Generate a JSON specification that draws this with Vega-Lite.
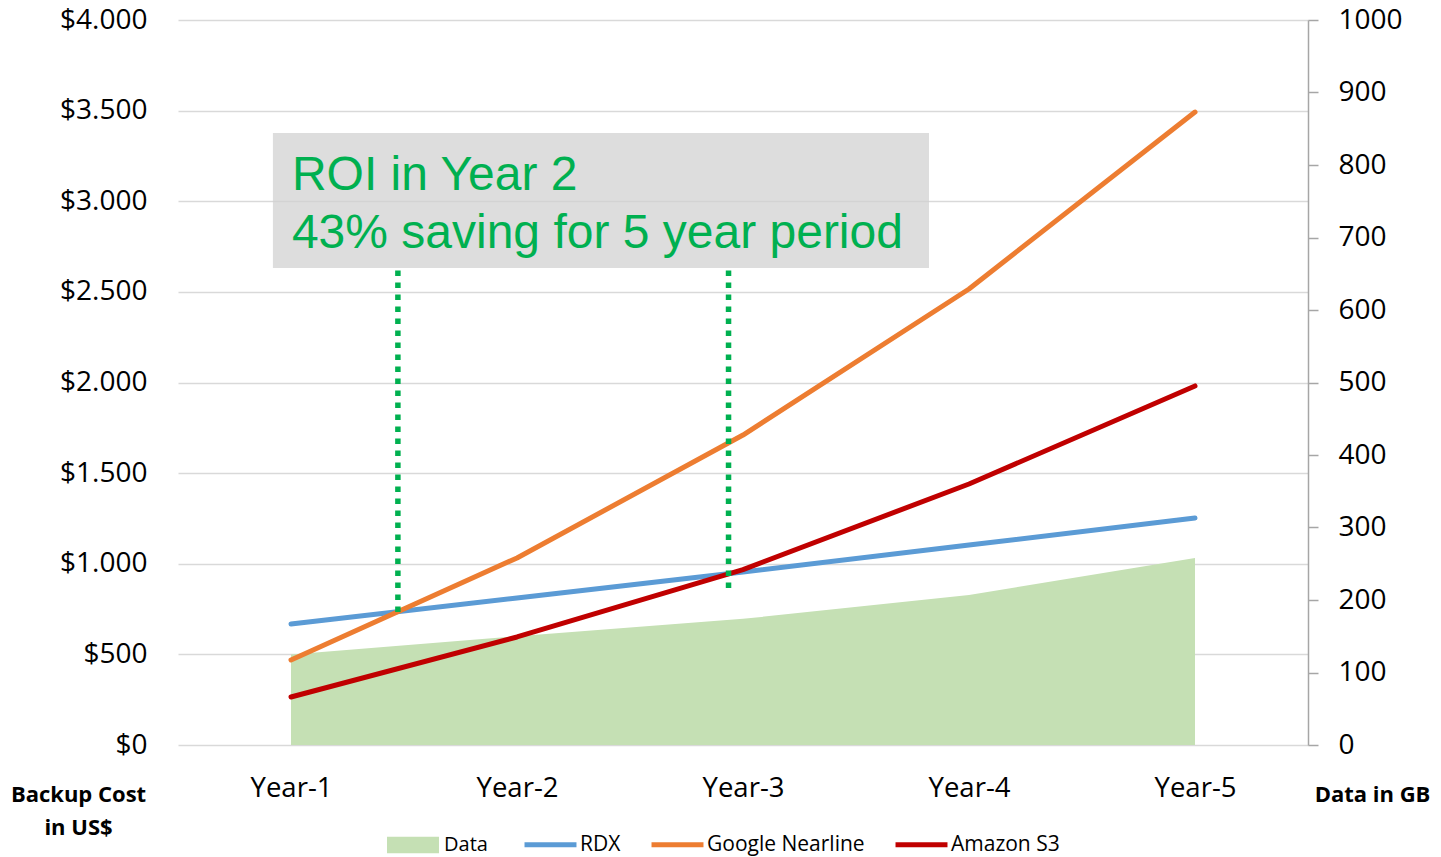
{
  "$schema": "https://vega.github.io/schema/vega-lite/v6.json",
  "width": 1130,
  "height": 725,
  "autosize": {"type": "none"},
  "padding": {"left": 178, "top": 20, "right": 133, "bottom": 112},
  "background": "white",
  "config": {"view": {"stroke": null}, "font": "Open Sans"},
  "datasets": {
    "gb": [
      {"x": 1, "series": "Data", "gb": 125},
      {"x": 2, "series": "Data", "gb": 150},
      {"x": 3, "series": "Data", "gb": 174},
      {"x": 4, "series": "Data", "gb": 207},
      {"x": 5, "series": "Data", "gb": 258}
    ],
    "cost": [
      {"x": 1, "series": "RDX", "cost": 668},
      {"x": 2, "series": "RDX", "cost": 811},
      {"x": 3, "series": "RDX", "cost": 955},
      {"x": 4, "series": "RDX", "cost": 1103},
      {"x": 5, "series": "RDX", "cost": 1252},
      {"x": 1, "series": "Google Nearline", "cost": 469},
      {"x": 2, "series": "Google Nearline", "cost": 1032},
      {"x": 3, "series": "Google Nearline", "cost": 1710},
      {"x": 4, "series": "Google Nearline", "cost": 2516},
      {"x": 5, "series": "Google Nearline", "cost": 3492},
      {"x": 1, "series": "Amazon S3", "cost": 265},
      {"x": 2, "series": "Amazon S3", "cost": 596},
      {"x": 3, "series": "Amazon S3", "cost": 968},
      {"x": 4, "series": "Amazon S3", "cost": 1440},
      {"x": 5, "series": "Amazon S3", "cost": 1981}
    ],
    "markers": [
      {"x": 1.473, "y": 734, "y2": 2632},
      {"x": 2.936, "y": 866, "y2": 2632}
    ],
    "box": [
      {"x": 0.92, "x2": 3.823, "y": 2632, "y2": 3377}
    ],
    "notes": [
      {"x": 1.004, "y": 3062, "text": "ROI in Year 2"},
      {"x": 1.004, "y": 2742, "text": "43% saving for 5 year period"}
    ]
  },
  "layer": [
    {
      "data": {"name": "gb"},
      "mark": {"type": "area", "opacity": 1},
      "encoding": {
        "x": {
          "field": "x", "type": "quantitative", "title": null,
          "scale": {"domain": [0.5, 5.5], "nice": false, "zero": false},
          "axis": {
            "orient": "bottom", "values": [1, 2, 3, 4, 5],
            "labelExpr": "'Year-' + datum.value",
            "domain": false, "ticks": false, "tickSize": 0, "grid": false,
            "labelPadding": 29, "labelFontSize": 27.5, "labelFont": "Open Sans",
            "labelColor": "#000000", "labelFlush": false, "title": null
          }
        },
        "y": {
          "field": "gb", "type": "quantitative",
          "scale": {"domain": [0, 1000], "nice": false},
          "axis": {
            "orient": "right", "values": [0, 100, 200, 300, 400, 500, 600, 700, 800, 900, 1000],
            "format": "d",
            "domain": true, "domainColor": "#A6A6A6", "domainWidth": 1.5,
            "ticks": true, "tickColor": "#A6A6A6", "tickSize": 10, "tickWidth": 1.5,
            "grid": false, "labelPadding": 20, "labelFontSize": 28, "labelFont": "Open Sans",
            "labelColor": "#000000", "labelFlush": false,
            "title": "Data in GB", "titleAngle": 0, "titleX": 64, "titleY": 781,
            "titleAlign": "center", "titleBaseline": "alphabetic",
            "titleFont": "Open Sans", "titleFontWeight": "bold", "titleFontSize": 22, "titleColor": "#000000"
          }
        },
        "fill": {
          "field": "series", "type": "nominal",
          "scale": {"domain": ["Data"], "range": ["#C5E0B4"]},
          "legend": {
            "orient": "none", "legendX": 209, "legendY": 799, "direction": "horizontal",
            "title": null, "labelFont": "Open Sans", "labelFontSize": 20, "labelColor": "#000000",
            "labelOffset": 5, "symbolSize": 2700, "symbolType": "M-1,-0.32H1V0.32H-1Z",
            "symbolStrokeWidth": 0, "symbolOpacity": 1
          }
        }
      }
    },
    {
      "layer": [
        {
          "data": {"name": "cost"},
          "mark": {"type": "line", "strokeWidth": 5, "strokeCap": "round", "strokeJoin": "round"},
          "encoding": {
            "x": {"field": "x", "type": "quantitative", "title": null, "scale": {"domain": [0.5, 5.5], "nice": false, "zero": false}},
            "y": {
              "field": "cost", "type": "quantitative",
              "scale": {"domain": [0, 4000], "nice": false},
              "axis": {
                "orient": "left", "values": [0, 500, 1000, 1500, 2000, 2500, 3000, 3500, 4000],
                "labelExpr": "'$' + replace(format(datum.value, ','), ',', '.')",
                "domain": false, "ticks": false, "tickSize": 0,
                "grid": true, "gridColor": "#D9D9D9", "gridWidth": 1.5,
                "labelPadding": 31, "labelFontSize": 28, "labelFont": "Open Sans",
                "labelColor": "#000000", "labelFlush": false,
                "title": ["Backup Cost", "in US$"], "titleAngle": 0, "titleX": -100, "titleY": 781,
                "titleAlign": "center", "titleBaseline": "alphabetic", "titleLineHeight": 33,
                "titleFont": "Open Sans", "titleFontWeight": "bold", "titleFontSize": 22, "titleColor": "#000000"
              }
            },
            "stroke": {
              "field": "series", "type": "nominal",
              "scale": {
                "domain": ["RDX", "Google Nearline", "Amazon S3"],
                "range": ["#5B9BD5", "#ED7D31", "#C00000"]
              },
              "legend": {
                "orient": "none", "legendX": 344, "legendY": 796, "direction": "horizontal",
                "title": null, "labelFont": "Open Sans", "labelFontSize": 21, "labelColor": "#000000",
                "labelOffset": 1, "columnPadding": 20, "symbolSize": 2700, "symbolType": "stroke",
                "symbolStrokeWidth": 5, "symbolOpacity": 1, "labelLimit": 400
              }
            }
          }
        },
        {
          "data": {"name": "markers"},
          "mark": {"type": "rule", "color": "#00B050", "strokeWidth": 5.5, "strokeDash": [5.5, 6.5]},
          "encoding": {
            "x": {"field": "x", "type": "quantitative", "title": null},
            "y": {"field": "y", "type": "quantitative"},
            "y2": {"field": "y2"}
          }
        },
        {
          "data": {"name": "box"},
          "mark": {"type": "rect", "color": "#D0D0D0", "opacity": 0.72},
          "encoding": {
            "x": {"field": "x", "type": "quantitative", "title": null},
            "x2": {"field": "x2"},
            "y": {"field": "y", "type": "quantitative"},
            "y2": {"field": "y2"}
          }
        },
        {
          "data": {"name": "notes"},
          "mark": {"type": "text", "font": "Liberation Sans", "fontSize": 48, "color": "#00B050", "align": "left", "baseline": "alphabetic"},
          "encoding": {
            "x": {"field": "x", "type": "quantitative", "title": null},
            "y": {"field": "y", "type": "quantitative"},
            "text": {"field": "text"}
          }
        }
      ]
    }
  ],
  "resolve": {"scale": {"y": "independent"}}
}
